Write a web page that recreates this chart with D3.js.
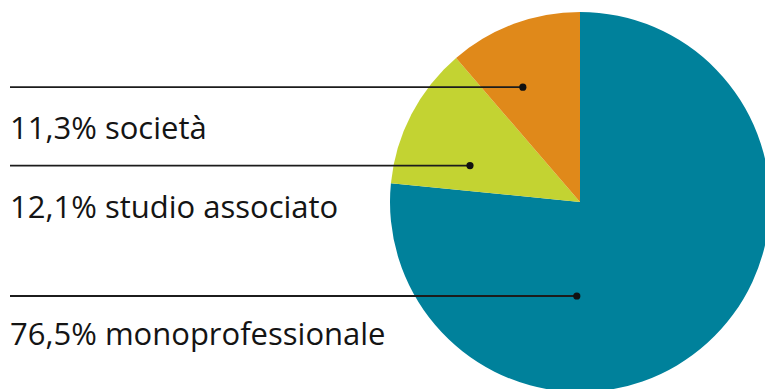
<!DOCTYPE html>
<html>
<head>
<meta charset="utf-8">
<script src="https://cdn.jsdelivr.net/npm/d3@7"></script>
<style>
  html, body { margin: 0; padding: 0; background: #fff; }
  svg { display: block; }
</style>
</head>
<body>
<svg id="chart" width="765" height="389"></svg>
<script>
// Forma giuridica: quote percentuali
const categories = ["monoprofessionale", "studio associato", "società"];
const values = [76.5, 12.1, 11.3];
const labels = ["76,5% monoprofessionale", "12,1% studio associato", "11,3% società"];
const colors = ["#00819b", "#c3d332", "#e0891a"];

const width = 765, height = 389;
const cx = 580, cy = 202, radius = 190;

// Leader anchor inside each slice: fraction along the slice angle, fraction of radius,
// plus the baseline of the label that hangs under the leader line.
const anchors = [
  { along: 0.66, depth: 0.495, labelY: 345 },
  { along: 0.29, depth: 0.61, labelY: 218 },
  { along: 0.35, depth: 0.675, labelY: 139 }
];

const svg = d3.select("#chart");
const g = svg.append("g").attr("transform", `translate(${cx},${cy})`);

const pie = d3.pie().sort(null).value(d => d);
const arcs = pie(values);
const arc = d3.arc().innerRadius(0).outerRadius(radius);

g.selectAll("path.slice")
  .data(arcs)
  .enter().append("path")
  .attr("class", "slice")
  .attr("d", arc)
  .attr("fill", (d, i) => colors[i]);

const lineX0 = 10;

arcs.forEach((a, i) => {
  const an = anchors[i];
  const ang = a.startAngle + an.along * (a.endAngle - a.startAngle);
  const r = an.depth * radius;
  const px = cx + r * Math.sin(ang);
  const py = cy - r * Math.cos(ang);

  svg.append("line")
    .attr("x1", lineX0).attr("x2", px)
    .attr("y1", py).attr("y2", py)
    .attr("stroke", "#1c1c1c")
    .attr("stroke-width", 1.8);

  svg.append("circle")
    .attr("cx", px).attr("cy", py)
    .attr("r", 3.6)
    .attr("fill", "#111");

  svg.append("text")
    .attr("x", lineX0)
    .attr("y", an.labelY)
    .attr("font-family", "'Open Sans', 'Noto Sans', sans-serif")
    .attr("font-size", 31)
    .attr("fill", "#141414")
    .text(labels[i]);
});
</script>
</body>
</html>
